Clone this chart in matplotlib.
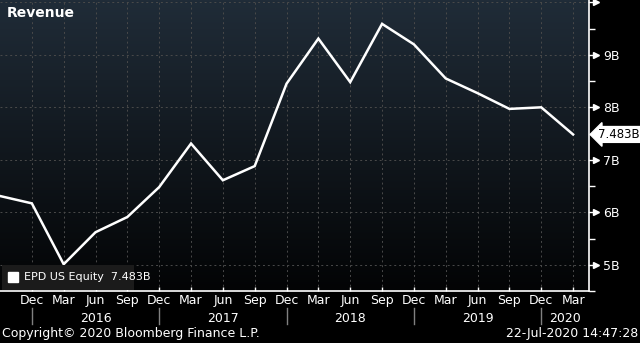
import numpy as np
import matplotlib.pyplot as plt
from matplotlib.transforms import blended_transform_factory

# Quarterly revenue, billions USD (Sep 2015 .. Mar 2020)
quarters = ["Sep", "Dec", "Mar", "Jun", "Sep", "Dec", "Mar", "Jun", "Sep", "Dec",
            "Mar", "Jun", "Sep", "Dec", "Mar", "Jun", "Sep", "Dec", "Mar"]
revenue = [6.31, 6.17, 5.01, 5.62, 5.91, 6.48, 7.31, 6.61, 6.88, 8.45,
           9.31, 8.48, 9.59, 9.20, 8.55, 8.27, 7.97, 8.00, 7.483]
years = ["2016", "2017", "2018", "2019", "2020"]
last_value = revenue[-1]

fig = plt.figure(figsize=(6.4, 3.43), dpi=100, facecolor="black")
ax = fig.add_axes([0, 52 / 343, 589 / 640, 291 / 343])
ax.set_facecolor("black")

x = np.arange(len(revenue))
xmax = 18.5
ymin, ymax = 4.52, 10.045
ax.set_xlim(0, xmax)
ax.set_ylim(ymin, ymax)

# dark blue-grey to black gradient behind the plot
grad = np.linspace(0, 1, 256).reshape(-1, 1)
top = np.array([0x20, 0x2c, 0x38]) / 255
bot = np.array([0x03, 0x04, 0x05]) / 255
img = top * (1 - grad[..., None]) + bot * grad[..., None]
ax.imshow(img, extent=[0, xmax, ymin, ymax], aspect="auto", zorder=0)

# grid
for xi in x[1:]:
    ax.axvline(xi, color="#4a4a4a", lw=0.7, ls=(0, (2, 3)), zorder=1)
for yv in range(5, 11):
    ax.axhline(yv, color="#4a4a4a", lw=0.7, ls=(0, (2, 3)), zorder=1)

ax.plot(x, revenue, color="white", lw=1.8, zorder=3, solid_joinstyle="miter")

# spines
for s in ["top", "left"]:
    ax.spines[s].set_visible(False)
for s in ["right", "bottom"]:
    ax.spines[s].set_color("white")
    ax.spines[s].set_linewidth(1.2)

# right axis ticks
ax.yaxis.tick_right()
ax.set_yticks([5, 6, 7, 8, 9, 10])
ax.set_yticklabels(["5B", "6B", "7B", "8B", "9B", ""])
ax.set_yticks(np.arange(4.5, 10.5, 1.0), minor=True)
ax.tick_params(axis="y", which="major", colors="white", labelsize=9,
               length=0, pad=10)
ax.tick_params(axis="y", which="minor", colors="white", length=4, width=1)
tr = blended_transform_factory(ax.transAxes, ax.transData)
ax.plot([1.012] * 6, [5, 6, 7, 8, 9, 10], marker=">", ms=5, color="white",
        ls="none", transform=tr, clip_on=False, zorder=5)
ax.plot([[1.0] * 6, [1.012] * 6], [[5, 6, 7, 8, 9, 10]] * 2, color="white",
        lw=1, transform=tr, clip_on=False)

# last value tag
ax.annotate(f"{last_value:.3f}B", xy=(1.0, last_value), xycoords=tr,
            xytext=(1.016, last_value), textcoords=tr, va="center", ha="left",
            fontsize=8.5, color="black", annotation_clip=False,
            bbox=dict(boxstyle="larrow,pad=0.12", fc="white", ec="white"))

# bottom axis: months and years
ax.set_xticks(x[1:])
ax.set_xticklabels(quarters[1:])
ax.tick_params(axis="x", colors="white", labelsize=9, direction="in",
               length=3, width=1, pad=2)

tx = blended_transform_factory(ax.transData, fig.transFigure)
year_centers = [3, 7, 11, 15, (17 + xmax) / 2]
for yc, yr in zip(year_centers, years):
    ax.text(yc, 25 / 343, yr, transform=tx, ha="center", va="center",
            color="white", fontsize=9)
for sep in [1, 5, 9, 13, 17]:
    ax.plot([sep, sep], [(343 - 308) / 343, (343 - 324) / 343], color="#808080",
            lw=1, transform=tx, clip_on=False)

# title and legend
ax.text(0.011, 0.957, "Revenue", transform=ax.transAxes, color="white",
        fontsize=10, fontweight="bold", ha="left", va="center")
leg_box = plt.Rectangle((0.003, 0.005), 0.225, 0.085, transform=ax.transAxes,
                        facecolor="#1b1b1b", edgecolor="none", zorder=4)
ax.add_patch(leg_box)
ax.plot([0.022], [0.047], marker="s", ms=7, color="white",
        transform=ax.transAxes, zorder=5)
ax.text(0.04, 0.047, f"EPD US Equity  {last_value:.3f}B", transform=ax.transAxes,
        color="white", fontsize=8, va="center", ha="left", zorder=5)

# footer
fig.text(0.003, 9 / 343, "Copyright\u00a9 2020 Bloomberg Finance L.P.",
         color="white", fontsize=9, ha="left", va="center")
fig.text(0.997, 9 / 343, "22-Jul-2020 14:47:28", color="white", fontsize=9,
         ha="right", va="center")

fig.savefig("out.png", dpi=100, facecolor="black")
